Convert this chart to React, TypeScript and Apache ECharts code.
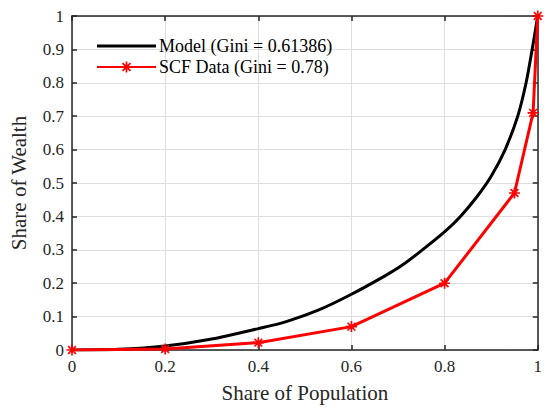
import React, { useEffect, useRef } from "react";
import * as echarts from "echarts";

const modelX = [0, 0.1, 0.2, 0.3, 0.4, 0.46, 0.53, 0.6, 0.672, 0.707, 0.749, 0.801, 0.834, 0.869, 0.9, 0.93, 0.957, 0.975, 0.988, 1];
const modelY = [0, 0.002, 0.012, 0.033, 0.064, 0.085, 0.12, 0.167, 0.222, 0.252, 0.296, 0.355, 0.4, 0.458, 0.52, 0.6, 0.7, 0.8, 0.9, 1];
const scfX = [0, 0.2, 0.4, 0.6, 0.8, 0.95, 0.99, 1];
const scfY = [0, 0.003, 0.022, 0.07, 0.2, 0.47, 0.71, 1];
const modelName = "Model (Gini = 0.61386)";
const scfName = "SCF Data (Gini = 0.78)";
const xTitle = "Share of Population";
const yTitle = "Share of Wealth";

const asterisk =
  "path://M0 8.5 H20 V11.5 H0 Z M8.5 0 H11.5 V20 H8.5 Z M1.87 3.99 L3.99 1.87 L18.13 16.01 L16.01 18.13 Z M18.13 3.99 L3.99 18.13 L1.87 16.01 L16.01 1.87 Z";
const lineIcon = "path://M0 0 H59 V3 H0 Z";

const FONT = "Liberation Serif";
const TXT = "#262626";

export default function App() {
  const ref = useRef<HTMLDivElement>(null);
  useEffect(() => {
    if (!ref.current) return;
    const chart = echarts.init(ref.current, undefined, { renderer: "svg" });
    const axisCommon = {
      type: "value" as const,
      min: 0,
      max: 1,
      axisLine: { show: true, onZero: false, lineStyle: { color: TXT, width: 1.5 } },
      axisTick: { show: true, inside: true, length: 5, lineStyle: { color: TXT, width: 1.5 } },
    };
    const labelStyle = { fontFamily: FONT, fontSize: 17, color: TXT, margin: 8 };
    chart.setOption({
      animation: false,
      backgroundColor: "#ffffff",
      textStyle: { fontFamily: FONT },
      grid: { left: 66, right: 7, top: 16, bottom: 52, containLabel: false },
      legend: {
        orient: "vertical",
        left: 96,
        top: 37,
        padding: 0,
        itemWidth: 59,
        itemHeight: 14,
        itemGap: 3,
        backgroundColor: "transparent",
        textStyle: { fontFamily: FONT, fontSize: 18, color: "#000", lineHeight: 17, padding: [0, 0, 0, -2] },
        data: [{ name: modelName, icon: lineIcon }, { name: scfName }],
      },
      xAxis: [
        {
          ...axisCommon,
          position: "bottom",
          interval: 0.2,
          name: xTitle,
          nameLocation: "middle",
          nameGap: 32,
          nameTextStyle: { fontFamily: FONT, fontSize: 21, color: TXT },
          axisLabel: labelStyle,
          splitLine: { show: true, lineStyle: { color: "#dedede", width: 1 } },
        },
        {
          ...axisCommon,
          position: "top",
          interval: 0.2,
          axisLabel: { show: false },
          splitLine: { show: false },
        },
      ],
      yAxis: [
        {
          ...axisCommon,
          position: "left",
          interval: 0.1,
          name: yTitle,
          nameLocation: "middle",
          nameGap: 43,
          nameTextStyle: { fontFamily: FONT, fontSize: 21, color: TXT },
          axisLabel: labelStyle,
          splitLine: { show: true, lineStyle: { color: "#dedede", width: 1 } },
        },
        {
          ...axisCommon,
          position: "right",
          interval: 0.1,
          axisLabel: { show: false },
          splitLine: { show: false },
        },
      ],
      series: [
        {
          name: modelName,
          type: "line",
          symbol: "none",
          smooth: 0.3,
          lineStyle: { color: "#000000", width: 3 },
          itemStyle: { color: "#000000" },
          data: modelX.map((x, i) => [x, modelY[i]]),
          z: 3,
        },
        {
          name: scfName,
          type: "line",
          symbol: asterisk,
          symbolSize: 11,
          lineStyle: { color: "#ff0000", width: 3 },
          itemStyle: { color: "#ff0000" },
          data: scfX.map((x, i) => [x, scfY[i]]),
          z: 4,
        },
      ],
    });
    return () => chart.dispose();
  }, []);
  return <div ref={ref} style={{ width: 545, height: 408, position: "absolute", left: 0, top: 0 }} />;
}
